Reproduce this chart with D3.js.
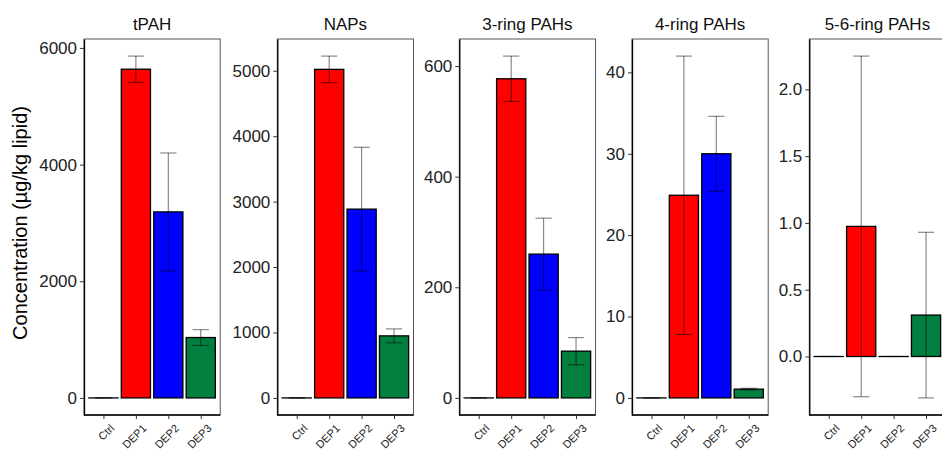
<!DOCTYPE html>
<html>
<head>
<meta charset="utf-8">
<script src="https://cdn.jsdelivr.net/npm/d3@7"></script>
<style>
  body { margin: 0; background: #fff; }
  svg { font-family: Arial, "Liberation Sans", sans-serif; display: block; }
</style>
</head>
<body>
<svg id="chart" width="942" height="454"></svg>
<script>
// groups on the x axis, same in every panel
const categories = ["Ctrl", "DEP1", "DEP2", "DEP3"]
const titles = ["tPAH", "NAPs", "3-ring PAHs", "4-ring PAHs", "5-6-ring PAHs"]

// mean concentrations per panel
const tPAH = [0, 5635, 3189, 1035]
const naps = [0, 5021, 2885, 948]
const ring3 = [0, 577, 260, 84.5]
const ring4 = [0, 24.9, 30.0, 1.08]
const ring56 = [0, 0.974, 0, 0.31]

// error bar half-widths
const tPAHErr = [0, 225, 1010, 135]
const napsErr = [0, 203, 945, 107]
const ring3Err = [0, 41, 65, 24.5]
const ring4Err = [0, 17.1, 4.6, 0.1]
const ring56Err = [0, 1.275, 0, 0.62]

// y tick labels per panel
const tPAHTicks = [0, 2000, 4000, 6000]
const napsTicks = [0, 1000, 2000, 3000, 4000, 5000]
const ring3Ticks = [0, 200, 400, 600]
const ring4Ticks = [0, 10, 20, 30, 40]
const ring56Ticks = [0, 0.5, 1.0, 1.5, 2.0]

const means = [tPAH, naps, ring3, ring4, ring56]
const errs = [tPAHErr, napsErr, ring3Err, ring4Err, ring56Err]
const ticks = [tPAHTicks, napsTicks, ring3Ticks, ring4Ticks, ring56Ticks]
const tickFmt = [d3.format("d"), d3.format("d"), d3.format("d"), d3.format("d"), d3.format(".1f")]

const colour = d3.scaleOrdinal()
    .domain(categories)
    .range(["#000000", "#FF0000", "#0000FF", "#007F3F"])

// layout (each panel is its own little ggplot, so the gaps differ)
const panelLeft = [84, 277.3, 459.3, 632, 809.3],
    panelW = 136.2,
    panelTop = 39,
    panelBottom = 415

const svg = d3.select("#chart")

svg.append("text")
    .attr("transform", "translate(27,223) rotate(-90)")
    .attr("text-anchor", "middle")
    .attr("font-size", 20)
    .attr("fill", "#000")
    .text("Concentration (µg/kg lipid)")

means.forEach((vals, p) => {
    const left = panelLeft[p]
    const g = svg.append("g")

    // discrete x scale with ggplot's 0.6 expansion on each side
    const x = d3.scalePoint()
        .domain(categories)
        .range([left, left + panelW])
        .padding(0.6)
    const step = x.step()

    // y domain = data range plus 5% each side
    const lo = d3.min(vals.map((v, i) => Math.min(0, v - errs[p][i])))
    const hi = d3.max(vals.map((v, i) => v + errs[p][i]))
    const pad = (hi - lo) * 0.05
    const y = d3.scaleLinear().domain([lo - pad, hi + pad]).range([panelBottom, panelTop])

    // panel border (grey), axis lines drawn later in black
    g.append("rect")
        .attr("x", left).attr("y", panelTop)
        .attr("width", panelW).attr("height", panelBottom - panelTop)
        .attr("fill", "none").attr("stroke", "#555").attr("stroke-width", 1)

    // bars (zero bars still need a visible outline, so keep a hair of height)
    g.selectAll("rect.bar")
        .data(vals)
        .enter()
        .append("rect")
        .attr("class", "bar")
        .attr("x", (d, i) => x(categories[i]) - step * 0.45)
        .attr("width", step * 0.9)
        .attr("y", d => y(Math.max(0, d)))
        .attr("height", d => Math.max(0.01, Math.abs(y(0) - y(d))))
        .attr("fill", (d, i) => colour(categories[i]))
        .attr("stroke", "#000")
        .attr("stroke-width", 1.3)

    // error bars
    const eb = g.selectAll("g.err")
        .data(vals)
        .enter()
        .append("g")
        .attr("class", "err")
        .attr("stroke", "rgba(0,0,0,0.5)")
        .attr("stroke-width", 1.1)
    eb.append("line")
        .attr("x1", (d, i) => x(categories[i])).attr("x2", (d, i) => x(categories[i]))
        .attr("y1", (d, i) => y(d - errs[p][i])).attr("y2", (d, i) => y(d + errs[p][i]))
    ;[-1, 1].forEach(s => {
        eb.append("line")
            .attr("x1", (d, i) => x(categories[i]) - step * 0.25)
            .attr("x2", (d, i) => x(categories[i]) + step * 0.25)
            .attr("y1", (d, i) => y(d + s * errs[p][i]))
            .attr("y2", (d, i) => y(d + s * errs[p][i]))
    })

    // y axis
    const yAxis = g.append("g")
        .attr("transform", `translate(${left},0)`)
        .call(d3.axisLeft(y).tickValues(ticks[p]).tickFormat(tickFmt[p])
            .tickSize(4).tickSizeOuter(0).tickPadding(3))
    yAxis.select(".domain").attr("stroke", "#000").attr("stroke-width", 1.3)
    yAxis.selectAll(".tick line").attr("stroke", "#333")
    yAxis.selectAll(".tick text").attr("font-size", 17).attr("fill", "#222")
        .attr("font-family", "Arial, 'Liberation Sans', sans-serif")

    // x axis
    const xAxis = g.append("g")
        .attr("transform", `translate(0,${panelBottom})`)
        .call(d3.axisBottom(x).tickSize(4).tickSizeOuter(0))
    xAxis.select(".domain").attr("stroke", "#000").attr("stroke-width", 1.3)
        .attr("d", `M${left},0H${left + panelW}`)
    xAxis.selectAll(".tick line").attr("stroke", "#333")
    xAxis.selectAll(".tick text")
        .attr("font-size", 11).attr("fill", "#222")
        .attr("font-family", "Arial, 'Liberation Sans', sans-serif")
        .attr("text-anchor", "end")
        .attr("dy", null).attr("y", 0)
        .attr("transform", "translate(11,14) rotate(-45)")

    // panel title
    g.append("text")
        .attr("x", left + panelW / 2)
        .attr("y", 30)
        .attr("text-anchor", "middle")
        .attr("font-size", 17)
        .attr("fill", "#111")
        .text(titles[p])
})
</script>
</body>
</html>
